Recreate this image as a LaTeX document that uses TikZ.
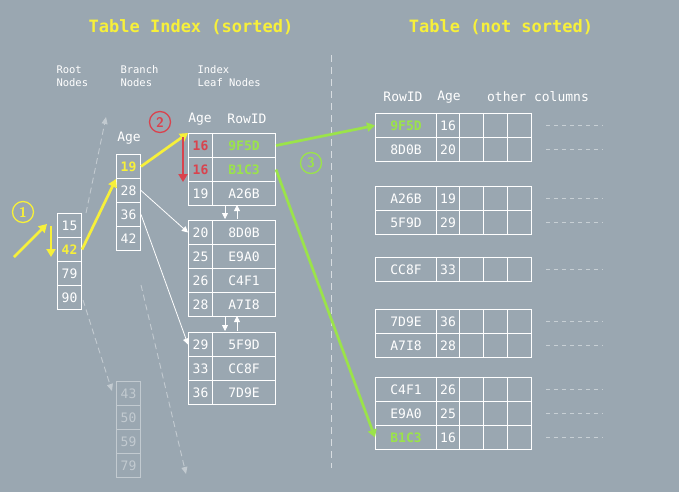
\documentclass[tikz,border=0pt]{standalone}
\usepackage{fontspec}
\setmonofont{DejaVu Sans Mono}
\usetikzlibrary{arrows.meta}
\definecolor{bg}{HTML}{9AA7B1}
\definecolor{yel}{HTML}{F7F03A}
\definecolor{redc}{HTML}{D9434E}
\definecolor{grn}{HTML}{9BE34A}
\tikzset{
 cell/.style={draw=white,line width=1pt,inner sep=0pt,minimum height=24pt,text=white,font=\ttfamily\fontsize{13}{13}\selectfont,anchor=north west},
 faded/.style={draw=white!40!bg,text=white!40!bg},
 lbl/.style={text=white,font=\ttfamily\fontsize{13}{13}\selectfont},
 small/.style={text=white,font=\ttfamily\fontsize{10.5}{13}\selectfont,align=left,anchor=north west},
 ttl/.style={text=yel,font=\ttfamily\bfseries\fontsize{17}{18}\selectfont},
 hl/.style={font=\ttfamily\bfseries\fontsize{13}{13}\selectfont},
 pw/.style={},
 pr/.style={text=redc,hl},
 pg/.style={text=grn,hl},
 py/.style={text=yel,hl},
 thick arr/.style={line width=2.7pt,-{Triangle[length=8pt,width=9pt]}},
 thin arr/.style={white,line width=0.8pt,-{Triangle[length=6pt,width=6pt]}},
 dash arr/.style={white!40!bg,dash pattern=on 6pt off 4pt,line width=0.9pt,-{Triangle[length=7pt,width=6pt]}},
 num/.style={circle,line width=1.3pt,minimum size=21pt,inner sep=0pt,font=\sffamily\bfseries\fontsize{14}{14}\selectfont}
}
\begin{document}
\begin{tikzpicture}[x=1pt,y=-1pt]
\fill[bg] (0,0) rectangle (679,492);
\useasboundingbox (0,0) rectangle (679,492);
\node[ttl] (t1) at (191,27) {Table Index (sorted)};
\node[ttl] (t2) at (501,27) {Table (not sorted)};
\draw[white!60!bg,dash pattern=on 7pt off 5pt,line width=0.9pt] (331,55) -- (331,468);
\node[small] (ln1) at (53,62) {Root\\Nodes};
\node[small] (ln2) at (117,62) {Branch\\Nodes};
\node[small] (ln3) at (194,62) {Index\\Leaf Nodes};
% root
\foreach \v/\i/\s in {15/0/pw,42/1/py,79/2/pw,90/3/pw}{\node[cell,minimum width=24pt,\s] (r\i) at (57,213+24*\i) {\v};}
% branch
\node[lbl] (bage) at (129,138) {Age};
\foreach \v/\i/\s in {19/0/py,28/1/pw,36/2/pw,42/3/pw}{\node[cell,minimum width=24pt,\s] (b\i) at (116,154+24*\i) {\v};}
\foreach \v/\i in {43/0,50/1,59/2,79/3}{\node[cell,faded,minimum width=24pt] (f\i) at (116,381+24*\i) {\v};}
% leaves
\node[lbl] (lage) at (200,119) {Age};
\node[lbl] (lrid) at (247,119) {RowID};
\foreach \y/\a/\r/\n/\sa/\sr in {133/16/9F5D/a0/pr/pg,157/16/B1C3/a1/pr/pg,181/19/A26B/a2/pw/pw,220/20/8D0B/b0/pw/pw,244/25/E9A0/b1/pw/pw,268/26/C4F1/b2/pw/pw,292/28/A7I8/b3/pw/pw,332/29/5F9D/c0/pw/pw,356/33/CC8F/c1/pw/pw,380/36/7D9E/c2/pw/pw}{
 \node[cell,minimum width=24pt,\sa] (k\n) at (188,\y) {\a};
 \node[cell,minimum width=63pt,\sr] (v\n) at (212,\y) {\r};}
% table
\node[lbl] (hrid) at (403,97) {RowID};
\node[lbl] (hage) at (449,97) {Age};
\node[lbl] (hoth) at (538,97) {other columns};
\foreach \y/\r/\a/\n/\s in {113/9F5D/16/0/pg,137/8D0B/20/1/pw,186/A26B/19/2/pw,210/5F9D/29/3/pw,257/CC8F/33/4/pw,309/7D9E/36/5/pw,333/A7I8/28/6/pw,377/C4F1/26/7/pw,401/E9A0/25/8/pw,425/B1C3/16/9/pg}{
 \node[cell,minimum width=61pt,\s] (tr\n) at (375,\y) {\r};
 \node[cell,minimum width=23pt] (ta\n) at (436,\y) {\a};
 \node[cell,minimum width=24pt] (tx\n) at (459,\y) {};
 \node[cell,minimum width=24pt] (ty\n) at (483,\y) {};
 \node[cell,minimum width=24pt] (tz\n) at (507,\y) {};
 \draw[white!45!bg,dash pattern=on 4pt off 4pt,line width=0.8pt] (546,\y+12) -- (603,\y+12);}
% circles
\node[num,draw=yel,text=yel] (c1) at (23,212) {1};
\node[num,draw=redc,text=redc] (c2) at (160,122) {2};
\node[num,draw=grn,text=grn] (c3) at (311,163) {3};
% arrows
\coordinate (s1) at (14,257);
\coordinate (e1) at (47,224);
\draw[yel,thick arr] (s1) -- (e1);
\draw[yel,thick arr] (51,226) -- (51,257);
\draw[yel,thick arr] (r1.east) -- (b0.south west);
\draw[yel,thick arr] (b0.east) -- (ka0.north west);
\draw[redc,thick arr] (183,137) -- (183,182);
\draw[grn,thick arr] (va0.east) -- (tr0.west);
\draw[grn,thick arr] (va1.east) -- (tr9.west);
\draw[thin arr] (b1.east) -- (kb0.west);
\draw[thin arr] (b2.east) -- (kc0.west);
\draw[thin arr] (225,205) -- (225,219);
\draw[thin arr] (237,219) -- (237,205);
\draw[thin arr] (225,316) -- (225,331);
\draw[thin arr] (237,331) -- (237,316);
\draw[dash arr] (r0.north east) ++(4,0) -- (106,117);
\draw[dash arr] (83,300) -- (112,391);
\draw[dash arr] (141,285) -- (186,474);
\end{tikzpicture}
\end{document}
